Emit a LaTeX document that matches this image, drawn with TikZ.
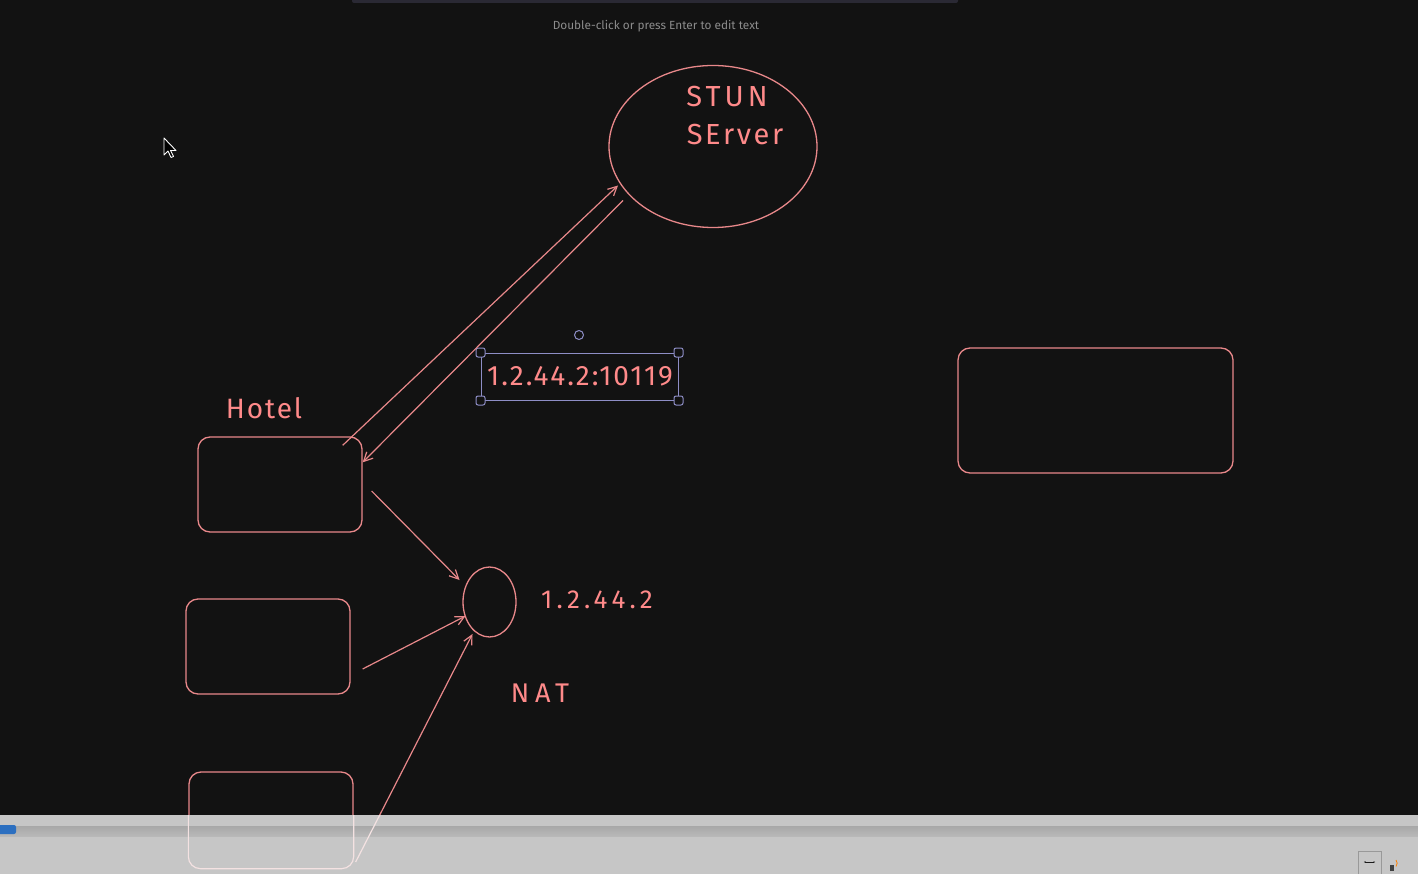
\documentclass[tikz,border=0pt]{standalone}
\usepackage{fontspec}
\setmainfont{Fira Sans}
\newfontfamily\handS[LetterSpace=7]{Fira Sans}
\newfontfamily\handM[LetterSpace=9]{Fira Sans}
\newfontfamily\handL[LetterSpace=14]{Fira Sans}
\newfontfamily\handX[LetterSpace=16]{Fira Sans}
\newfontfamily\handN[LetterSpace=22]{Fira Sans}
\usetikzlibrary{arrows.meta,calc,shapes.geometric}
\definecolor{bg}{HTML}{121212}
\definecolor{ink}{HTML}{E8888A}
\definecolor{txt}{HTML}{FF8A8A}
\definecolor{sel}{HTML}{8E8EC6}
\definecolor{hint}{HTML}{8C8C8C}
\definecolor{band}{HTML}{C6C6C6}
\definecolor{bandtop}{HTML}{A8A8A8}
\definecolor{bandbot}{HTML}{B8B8B8}
\definecolor{strip}{HTML}{2A2934}
\definecolor{prog}{HTML}{2C6FC0}
\definecolor{pale}{HTML}{F4E2E2}
\tikzset{
  boxshape/.style={draw=ink, line width=1.3pt, rounded corners=12pt, inner sep=0pt},
  ellshape/.style={draw=ink, line width=1.3pt, ellipse, inner sep=0pt},
  lbl/.style={text=txt, inner sep=0pt},
  conn/.style={draw=ink, line width=1.2pt, -{Straight Barb[length=9pt,width=9pt,line width=1.2pt]}},
  handle/.style={draw=sel, fill=bg, line width=1pt, rounded corners=2pt, minimum size=9pt, inner sep=0pt},
}
\begin{document}
\begin{tikzpicture}[x=1pt,y=-1pt]
\fill[bg] (0,0) rectangle (1418,874);
\useasboundingbox (0,0) rectangle (1418,874);
% top toolbar strip
\fill[strip, rounded corners=2pt] (352,-4) rectangle (958,3);
\node[text=hint, font=\fontsize{11.8}{13}\selectfont, inner sep=0pt] (hinttext) at (656,26) {Double-click or press Enter to edit text};
% mouse cursor
\filldraw[fill=black, draw=white, line width=0.9pt, line join=round]
  (164,138) -- (164,155) -- (168,151) -- (171,157.5) -- (173.5,156.5) -- (170.5,150.5) -- (176,150.5) -- cycle;
% STUN server
\node[ellshape, minimum width=208pt, minimum height=162pt] (stun) at (713,146.5) {};
\node[lbl, font=\handL\fontsize{29}{34}\selectfont] (stunt) at (727,97) {STUN};
\node[lbl, font=\handM\fontsize{29}{34}\selectfont] (servert) at (735,135) {SErver};
% boxes
\node[boxshape, minimum width=164pt, minimum height=95pt] (hotel) at (280,484.5) {};
\node[lbl, font=\handS\fontsize{28}{34}\selectfont] (hotelt) at (264,408) {Hotel};
\node[boxshape, minimum width=164pt, minimum height=95pt] (box2) at (268,646.5) {};
\node[boxshape, minimum width=164pt, minimum height=96pt] (box3) at (271,820) {};
\node[boxshape, minimum width=275pt, minimum height=125pt] (rbox) at (1095.5,410.5) {};
% NAT
\node[ellshape, minimum width=53pt, minimum height=70pt] (nat) at (489.5,602) {};
\node[lbl, font=\handX\fontsize{26}{30}\selectfont] (natip) at (597,600) {1.2.44.2};
\node[lbl, font=\handN\fontsize{27}{30}\selectfont] (natt) at (540,693) {NAT};
% selected text
\node[lbl, font=\handS\fontsize{28}{32}\selectfont] (ip) at (580,376) {1.2.44.2:10119};
\node[draw=sel, line width=1pt, minimum width=197pt, minimum height=47pt, inner sep=0pt] (selbox) at (579.5,376.5) {};
\node[handle] (h1) at (selbox.north west) {};
\node[handle] (h2) at (selbox.north east) {};
\node[handle] (h3) at (selbox.south west) {};
\node[handle] (h4) at (selbox.south east) {};
\node[draw=sel, fill=bg, line width=1pt, circle, minimum size=9pt, inner sep=0pt] (rot) at (579,335) {};
% connectors
\draw[conn] ($(hotel.north east)+(-20,9)$) -- ($(stun.center)+(-95,39)$);
\draw[conn] ($(stun.center)+(-90,54)$) -- ($(hotel.north east)+(0,26)$);
\draw[conn] ($(hotel.east)+(9,6.5)$) -- ($(nat.center)+(-30,-22)$);
\draw[conn] ($(box2.east)+(12,22.5)$) -- ($(nat.center)+(-24,14)$);
\draw[conn] ($(box3.east)+(2,42)$) -- ($(nat.center)+(-17,32)$);
% player bar overlay
\fill[band] (0,815) rectangle (1418,874);
\shade[top color=bandtop, bottom color=bandbot] (0,826) rectangle (1418,836);
\fill[prog, rounded corners=2pt] (-3,825) rectangle (16,834);
\begin{scope}
\clip (0,815) rectangle (1418,874);
\draw[draw=pale, line width=1.2pt, rounded corners=12pt] (box3.north west) rectangle (box3.south east);
\draw[draw=pale, line width=1.2pt] ($(box3.east)+(2,42)$) -- ($(nat.center)+(-17,32)$);
\end{scope}
% bottom-right controls
\node[draw=gray!80, fill=band, line width=0.8pt, minimum width=23pt, minimum height=24pt, inner sep=0pt] (ctl) at (1369.5,863) {};
\draw[gray!20!black, line width=0.8pt, {Latex[length=2pt]}-{Latex[length=2pt]}] ($(ctl.center)+(-6,-1)$) -- ($(ctl.center)+(6,-1)$);
\fill[gray!50!black] (1390,865) rectangle (1394,871);
\draw[orange, line width=0.8pt] (1396,860) arc (-40:40:5);
\end{tikzpicture}
\end{document}
